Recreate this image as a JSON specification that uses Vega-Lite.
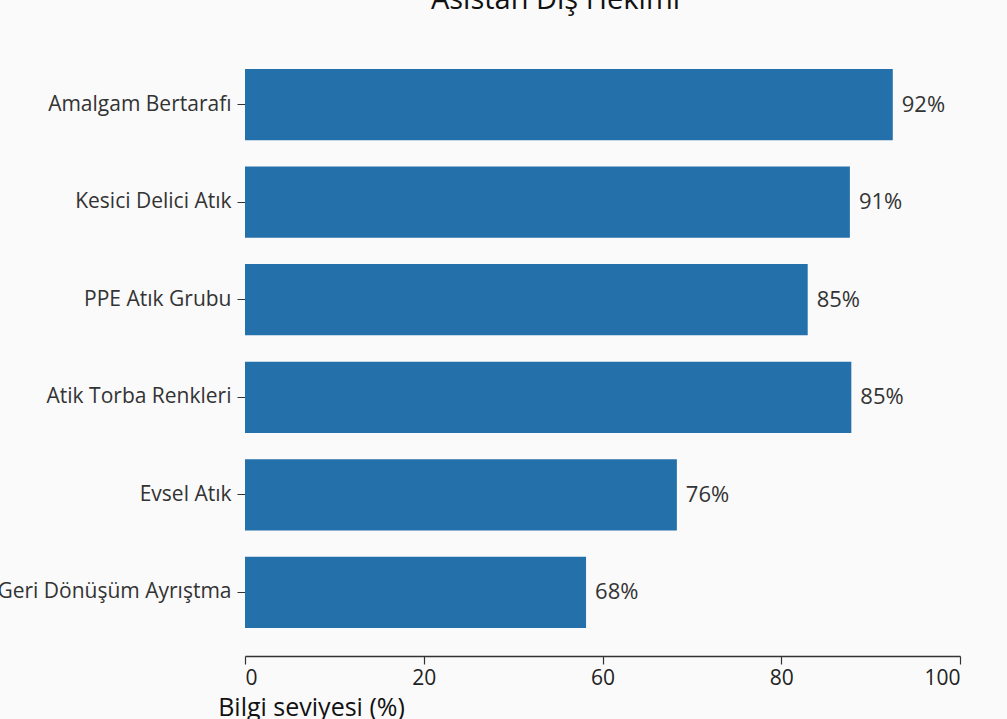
{
  "$schema": "https://vega.github.io/schema/vega-lite/v6.json",
  "width": 715,
  "height": 587,
  "autosize": {"type": "none"},
  "padding": {"left": 245, "top": 69, "right": 47, "bottom": 63},
  "background": "#fafafa",
  "title": {
    "text": "Asistan Diş Hekimi",
    "font": "Open Sans",
    "fontSize": 29,
    "fontWeight": "normal",
    "color": "#111111",
    "anchor": "middle",
    "dx": -47,
    "offset": 31,
    "baseline": "alphabetic"
  },
  "config": {"view": {"stroke": null}},
  "data": {
    "values": [
      {"kategori": "Amalgam Bertarafı", "yuzde": 0.92, "uzunluk": 90.6},
      {"kategori": "Kesici Delici Atık", "yuzde": 0.91, "uzunluk": 84.6},
      {"kategori": "PPE Atık Grubu", "yuzde": 0.85, "uzunluk": 78.7},
      {"kategori": "Atik Torba Renkleri", "yuzde": 0.85, "uzunluk": 84.8},
      {"kategori": "Evsel Atık", "yuzde": 0.76, "uzunluk": 60.4},
      {"kategori": "Geri Dönüşüm Ayrıştma", "yuzde": 0.68, "uzunluk": 47.7}
    ]
  },
  "encoding": {
    "y": {
      "field": "kategori",
      "type": "nominal",
      "sort": null,
      "scale": {"range": [0, 559], "paddingInner": 0.27, "paddingOuter": 0},
      "axis": {
        "title": null,
        "domain": false,
        "ticks": true,
        "tickSize": 8,
        "tickColor": "#333333",
        "labelPadding": 6,
        "labelLimit": 0,
        "labelFont": "Open Sans",
        "labelFontSize": 21,
        "labelColor": "#333333"
      }
    }
  },
  "layer": [
    {
      "mark": {"type": "bar", "color": "#2470ab"},
      "encoding": {
        "x": {
          "field": "uzunluk",
          "type": "quantitative",
          "scale": {"domain": [0, 100], "nice": false},
          "axis": {
            "values": [0, 25, 50, 75, 100],
            "labelExpr": "datum.value == 25 ? '20' : datum.value == 50 ? '60' : datum.value == 75 ? '80' : datum.label",
            "grid": false,
            "domainColor": "#333333",
            "domainWidth": 1.5,
            "tickColor": "#333333",
            "tickSize": 8,
            "tickWidth": 1.2,
            "labelPadding": 3,
            "labelFont": "Open Sans",
            "labelFontSize": 21,
            "labelColor": "#222222",
            "title": "Bilgi seviyesi (%)",
            "titleFont": "Open Sans",
            "titleFontSize": 25,
            "titleFontWeight": "normal",
            "titleColor": "#111111",
            "titleX": 66,
            "titleY": 59,
            "titleAlign": "center",
            "titleBaseline": "alphabetic",
            "titleAnchor": null
          }
        }
      }
    },
    {
      "mark": {"type": "text", "align": "left", "baseline": "middle", "dx": 9, "font": "Open Sans", "fontSize": 22, "color": "#333333"},
      "encoding": {
        "x": {"field": "uzunluk", "type": "quantitative"},
        "text": {"field": "yuzde", "type": "quantitative", "format": ".0%"}
      }
    },
    {
      "mark": {"type": "rule", "color": "#333333", "strokeWidth": 1.5},
      "encoding": {"x": {"datum": 0}}
    }
  ]
}
